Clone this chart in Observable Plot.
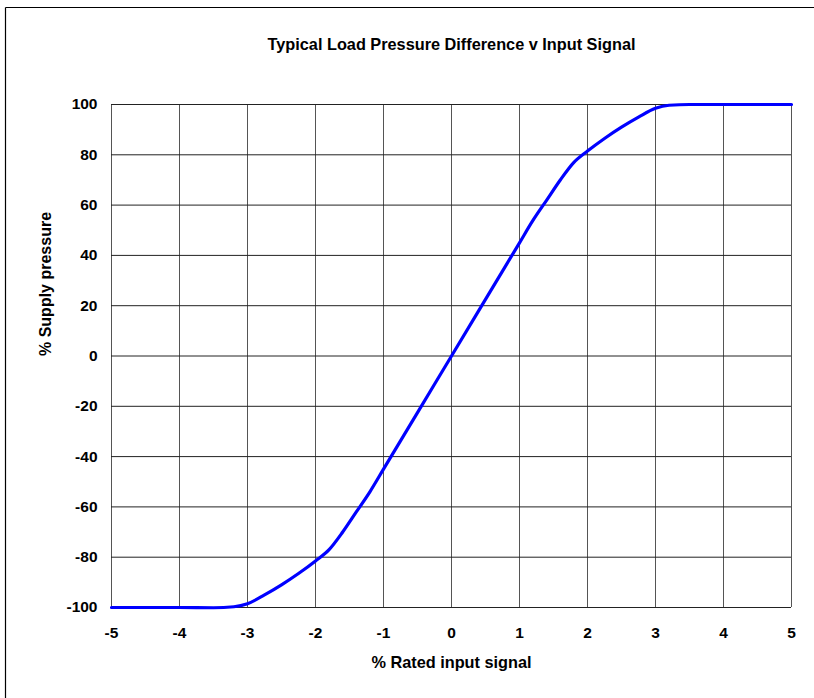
<!DOCTYPE html>
<html>
<head>
<meta charset="utf-8">
<script src="https://cdn.jsdelivr.net/npm/d3@7"></script>
<script src="https://cdn.jsdelivr.net/npm/@observablehq/plot@0.6"></script>
<style>
  html, body { margin: 0; padding: 0; background: #fff; }
  #chart { position: relative; width: 814px; height: 698px; }
</style>
</head>
<body>
<div id="chart"></div>
<script>
const titleText = "Typical Load Pressure Difference v Input Signal";
const xLabel = "% Rated input signal";
const yLabel = "% Supply pressure";
const xTicks = [-5, -4, -3, -2, -1, 0, 1, 2, 3, 4, 5];
const yTicks = [-100, -80, -60, -40, -20, 0, 20, 40, 60, 80, 100];

const signal = [-5, -4, -3.5, -3.2, -3, -2.75, -2.5, -2.25, -2, -1.8, -1.6, -1.4, -1.2, -1, -0.5, 0,
                0.5, 1, 1.2, 1.4, 1.6, 1.8, 2, 2.25, 2.5, 2.75, 3, 3.2, 3.5, 4, 5];
const pressure = [-100, -100, -100.1, -99.7, -98.5, -95, -91, -86.5, -81.5, -77, -70, -62, -54, -45, -22.5, 0,
                  22.5, 45, 54, 62, 70, 77, 81.5, 86.5, 91, 95, 98.5, 99.7, 100, 100, 100];

const data = signal.map((x, i) => ({x, y: pressure[i]}));

const W = 814, H = 698;
const mL = 111, mR = 23, mT = 104, mB = 91;
const fmt = d => String(d);

const chart = Plot.plot({
  width: W,
  height: H,
  marginLeft: mL,
  marginRight: mR,
  marginTop: mT,
  marginBottom: mB,
  style: {fontFamily: "'Liberation Sans', Arial, sans-serif", fontSize: "15.5px", fontWeight: "bold", color: "#000", background: "#fff"},
  x: {domain: [-5, 5], ticks: xTicks, tickFormat: fmt, tickSize: 0, tickPadding: 19, label: null},
  y: {domain: [-100, 100], ticks: yTicks, tickFormat: fmt, tickSize: 0, tickPadding: 14, label: null},
  marks: [
    Plot.ruleX(xTicks, {stroke: "#555", strokeWidth: 1, strokeOpacity: 1}),
    Plot.ruleY(yTicks, {stroke: "#222", strokeWidth: 1, strokeOpacity: 1}),
    Plot.line(data, {x: "x", y: "y", stroke: "#0000ff", strokeWidth: 3.2, curve: "monotone-x"}),
    Plot.text([titleText], {frameAnchor: "top", lineAnchor: "middle", dy: -60, fontSize: 16.3, fontWeight: "bold", fill: "#000"}),
    Plot.text([xLabel], {frameAnchor: "bottom", lineAnchor: "middle", dy: 55, fontSize: 16.3, fontWeight: "bold", fill: "#000"}),
    Plot.text([yLabel], {frameAnchor: "left", lineAnchor: "middle", dx: -66, rotate: -90, fontSize: 16, fontWeight: "bold", fill: "#000"})
  ]
});

document.getElementById("chart").appendChild(chart);

// outer chart-area border (top and left edges visible in the reference)
const svg = d3.select(chart);
svg.append("line").attr("x1", 5.5).attr("x2", W).attr("y1", 7.5).attr("y2", 7.5).attr("stroke", "#000").attr("stroke-width", 1.2);
svg.append("line").attr("x1", 5.5).attr("x2", 5.5).attr("y1", 7.5).attr("y2", H).attr("stroke", "#000").attr("stroke-width", 1.2);
</script>
</body>
</html>
